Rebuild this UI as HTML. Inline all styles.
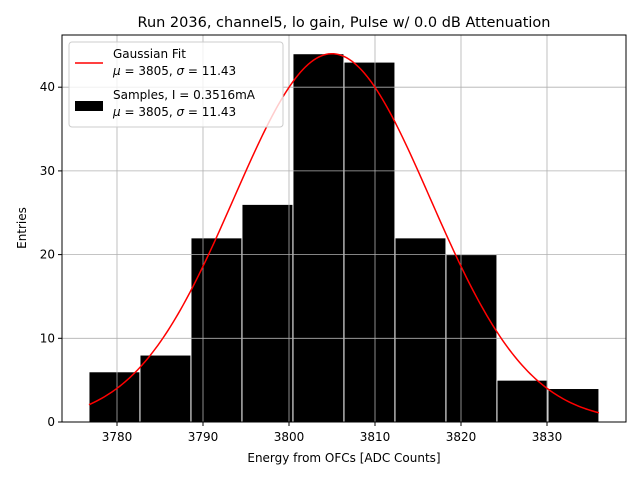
<!DOCTYPE html>
<html><head><meta charset="utf-8"><style>
body{margin:0;background:#fff;font-family:"Liberation Sans","DejaVu Sans",sans-serif;}
svg text{font-family:"DejaVu Sans","Liberation Sans",sans-serif;}
</style></head><body>
<svg id="chart" width="640" height="480" xmlns="http://www.w3.org/2000/svg">
<rect width="640" height="480" fill="#fff"/>
<text x="344" y="27" font-size="14.5" text-anchor="middle">Run 2036, channel5, lo gain, Pulse w/ 0.0 dB Attenuation</text>
<g id="bars"></g>
<g id="grid"></g>
<path id="fit" fill="none" stroke="#ff0000" stroke-width="1.5"/>
<rect x="62" y="35" width="564" height="387" fill="none" stroke="#000" stroke-width="1"/>
<g id="ticks"></g>
<text x="344" y="462" font-size="12" text-anchor="middle">Energy from OFCs [ADC Counts]</text>
<text transform="translate(26,228) rotate(-90)" font-size="12" text-anchor="middle">Entries</text>
<g>
<rect x="69" y="42" width="214" height="85" rx="3" fill="#fff" fill-opacity="0.8" stroke="#ccc"/>
<line x1="75" y1="63" x2="103" y2="63" stroke="#ff0000" stroke-width="1.5"/>
<text x="113" y="58" font-size="12">Gaussian Fit</text>
<text x="113" y="75" font-size="12"><tspan font-style="italic">μ</tspan> = 3805, <tspan font-style="italic">σ</tspan> = 11.43</text>
<rect x="75" y="101" width="28" height="10" fill="#000"/>
<text x="113" y="99" font-size="12">Samples, I = 0.3516mA</text>
<text x="113" y="116" font-size="12"><tspan font-style="italic">μ</tspan> = 3805, <tspan font-style="italic">σ</tspan> = 11.43</text>
</g>
</svg>
<script>
const binStart = 3776.74;
const binWidth = 5.93;
const counts = [6, 8, 22, 26, 44, 43, 22, 20, 5, 4];
const xTicks = [3780, 3790, 3800, 3810, 3820, 3830];
const yTicks = [0, 10, 20, 30, 40];
const fitMu = 3805, fitSigma = 11.43, fitAmp = 44;
const NS = "http://www.w3.org/2000/svg";
const X = v => 117 + (v - 3780) * 8.6;
const Y = v => 422 - v * 8.37;
const grid = document.getElementById('grid'), bars = document.getElementById('bars'), ticks = document.getElementById('ticks');
function mk(tag, attrs, parent){const e=document.createElementNS(NS,tag);for(const k in attrs)e.setAttribute(k,attrs[k]);parent.appendChild(e);return e;}
xTicks.forEach(t=>{
  const g=mk('line',{x1:X(t),x2:X(t),y1:35,y2:422,stroke:'#b0b0b0','stroke-width':0.8},grid);
  
  
  const tk=mk('line',{x1:X(t),x2:X(t),y1:422,y2:426,stroke:'#000'},ticks);
  
  
  const tx=mk('text',{x:X(t),y:441,'font-size':12,'text-anchor':'middle'},ticks);tx.textContent=t;
  
  
});
yTicks.forEach(t=>{
  const g=mk('line',{x1:62,x2:626,y1:Y(t),y2:Y(t),stroke:'#b0b0b0','stroke-width':0.8},grid);
  
  
  const tk=mk('line',{x1:58,x2:62,y1:Y(t),y2:Y(t),stroke:'#000'},ticks);
  
  
  const tx=mk('text',{x:55,y:Y(t)+4,'font-size':12,'text-anchor':'end'},ticks);tx.textContent=t;
  
  
});
counts.forEach((c,i)=>{
  const x0=X(binStart+i*binWidth), x1=X(binStart+(i+1)*binWidth);
  const r=mk('rect',{x:x0,y:Y(c),width:x1-x0,height:Y(0)-Y(c),fill:'#000',stroke:'#fff','stroke-width':1},bars);
  
  
});
let d='';const lo=binStart, hi=binStart+counts.length*binWidth;
for(let i=0;i<=200;i++){const v=lo+(hi-lo)*i/200;const y=fitAmp*Math.exp(-0.5*((v-fitMu)/fitSigma)**2);d+=(i?'L':'M')+X(v).toFixed(2)+','+Y(y).toFixed(2);}
document.getElementById('fit').setAttribute('d',d);
</script>
</body></html>
